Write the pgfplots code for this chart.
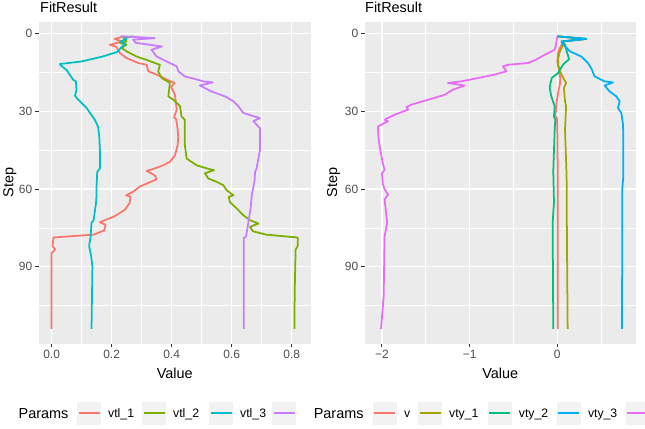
\documentclass[border=0pt]{standalone}
\usepackage{pgfplots}
\pgfplotsset{compat=1.18}
\usepackage{fontspec}
\setmainfont{Liberation Sans}
\definecolor{ggbg}{HTML}{EBEBEB}
\definecolor{ggkey}{HTML}{F2F2F2}
\definecolor{ggtext}{HTML}{4D4D4D}
\definecolor{ggtick}{HTML}{333333}
\definecolor{cA}{HTML}{F8766D}
\definecolor{cB}{HTML}{7CAE00}
\definecolor{cC}{HTML}{00BFC4}
\definecolor{cD}{HTML}{C77CFF}
\definecolor{dB}{HTML}{A3A500}
\definecolor{dC}{HTML}{00BF7D}
\definecolor{dD}{HTML}{00B0F6}
\definecolor{dE}{HTML}{E76BF3}
\pgfplotsset{
  ggbase/.style={
    scale only axis, anchor=south west,
    axis background/.style={fill=ggbg},
    axis line style={draw=none},
    y dir=reverse, ymin=-4.65, ymax=119.65,
    ytick={0,30,60,90}, yticklabels={0,30,60,90},
    minor ytick={15,45,75,105},
    grid=both,
    major grid style={white, line width=1.35bp},
    minor grid style={white, line width=0.7bp},
    tick align=outside, tick pos=left,
    major tick length=3.6bp, minor tick length=0pt,
    major tick style={color=ggtick, line width=0.9bp},
    ticklabel style={font=\fontsize{12}{12}\selectfont, color=ggtext, inner sep=0pt},
    xticklabel style={anchor=north, yshift=-2.5bp},
    yticklabel style={anchor=east, xshift=-3bp},
    clip=false,
    every axis plot/.append style={line width=1.75bp, no marks, line join=round},
  }
}
\begin{document}
\begin{tikzpicture}
\useasboundingbox (0,0) rectangle (645bp,-429bp);
% ---------- left panel ----------
\begin{axis}[ggbase, at={(39bp,-343.5bp)}, width=271.6bp, height=321.8bp,
  xmin=-0.042, xmax=0.863,
  xtick={0,0.2,0.4,0.6,0.8}, xticklabels={0.0,0.2,0.4,0.6,0.8},
  minor xtick={0.1,0.3,0.5,0.7}]
\addplot[cA] coordinates {(0.24,1) (0.21,2) (0.235,3) (0.194,4.3) (0.215,5) (0.228,7.5) (0.25,9.4) (0.289,11.3) (0.317,12) (0.322,14.5) (0.35,15.8) (0.372,17) (0.40,18.6) (0.41,19) (0.398,20.5) (0.411,23.6) (0.417,29.3) (0.408,32.3) (0.415,33) (0.42,37) (0.422,40) (0.42,43) (0.411,47) (0.394,49.5) (0.372,50.8) (0.344,52) (0.317,53) (0.344,54.7) (0.35,56.2) (0.317,57.9) (0.294,59) (0.272,61) (0.248,62.4) (0.263,63) (0.26,65.4) (0.244,68) (0.21,70.5) (0.161,72.8) (0.18,73.8) (0.175,76) (0.14,77.6) (0.006,78.7) (0.003,82) (0.012,83.3) (0.0,84.7) (0.0,100) (0.0,114)};
\addplot[cB] coordinates {(0.272,1) (0.239,1.7) (0.25,3) (0.228,3.6) (0.25,4.2) (0.233,5.5) (0.25,6.8) (0.283,8.8) (0.314,10) (0.344,11.3) (0.361,12) (0.355,14.6) (0.367,17.1) (0.394,19) (0.389,24.2) (0.406,25.5) (0.428,28) (0.433,32) (0.444,33.2) (0.444,43) (0.45,48.2) (0.483,50.8) (0.517,52) (0.541,52.7) (0.511,53.9) (0.522,55.9) (0.55,57.2) (0.572,58.5) (0.583,60.4) (0.606,62.4) (0.59,63) (0.594,65) (0.617,67.5) (0.639,70.1) (0.661,72) (0.689,73.3) (0.661,74.6) (0.671,76.3) (0.715,77.6) (0.82,78.7) (0.82,82) (0.813,83.4) (0.81,100) (0.809,114)};
\addplot[cC] coordinates {(0.24,1) (0.25,2) (0.23,3) (0.245,4) (0.23,5.5) (0.22,7) (0.17,8.8) (0.10,10.7) (0.028,11.7) (0.03,12.2) (0.05,14) (0.072,17.8) (0.081,18.4) (0.083,21.6) (0.078,24) (0.089,25.5) (0.106,27.4) (0.117,28.7) (0.128,30.6) (0.144,33.2) (0.155,36) (0.159,40) (0.161,45) (0.161,52) (0.152,53.4) (0.15,58.5) (0.15,62) (0.148,65.4) (0.14,72) (0.133,73) (0.13,78.3) (0.125,82) (0.132,86) (0.136,90) (0.133,114)};
\addplot[cD] coordinates {(0.23,1) (0.27,1.2) (0.344,1.7) (0.272,2.3) (0.28,3.5) (0.367,4.9) (0.333,6.2) (0.35,8.8) (0.394,11.3) (0.417,12.6) (0.422,14.5) (0.444,16.5) (0.472,17.3) (0.506,18.4) (0.537,18.8) (0.494,20) (0.533,22.3) (0.578,24.2) (0.606,26.1) (0.622,28) (0.639,30.6) (0.694,32.6) (0.672,33.8) (0.694,36.4) (0.694,45) (0.683,52) (0.678,53.4) (0.676,57) (0.667,62.4) (0.663,67.5) (0.656,72.7) (0.648,78.3) (0.64,79) (0.64,114)};
\end{axis}
% ---------- right panel ----------
\begin{axis}[ggbase, at={(365bp,-343.5bp)}, width=270.7bp, height=321.8bp,
  xmin=-2.193, xmax=0.894,
  xtick={-2,-1,0}, xticklabels={−2,−1,0},
  minor xtick={-1.5,-0.5,0.5}]
\addplot[cA] coordinates {(0,1) (0.33,2) (0.05,3) (0.05,4.2) (0.011,6.8) (0.0,10.7) (0.02,14.5) (0.034,17.1) (0.03,19.5) (0.011,22.3) (-0.007,26.1) (-0.015,30) (-0.03,31.5) (-0.005,32.5) (0.0,36) (0.004,50) (0.004,114)};
\addplot[dB] coordinates {(0,1) (0.33,2) (0.05,3) (0.068,4.2) (0.027,7) (0.011,9.4) (0.01,12) (0.03,14.5) (0.068,17.1) (0.10,19) (0.075,21) (0.088,26.1) (0.10,28) (0.088,37) (0.106,55) (0.11,80) (0.118,114)};
\addplot[dC] coordinates {(0,1) (0.33,2) (0.05,3) (0.088,4.2) (0.107,6.8) (0.135,9.8) (0.068,11.8) (0.008,15.2) (-0.064,17.1) (-0.08,19.5) (-0.087,21) (-0.068,24.2) (-0.03,28) (-0.038,32) (-0.023,33.2) (-0.03,37) (-0.046,53) (-0.038,65) (-0.053,73) (-0.046,114)};
\addplot[dD] coordinates {(0,1) (0.33,2) (0.05,3) (0.068,4.2) (0.145,6.8) (0.274,8.8) (0.35,11.3) (0.39,13.5) (0.426,16.5) (0.54,18.4) (0.635,18.8) (0.54,20) (0.597,22.3) (0.673,24.2) (0.711,26.1) (0.692,28.7) (0.73,30.6) (0.749,35) (0.753,40) (0.753,55) (0.741,60) (0.738,114)};
\addplot[dE] coordinates {(0,1) (-0.011,3.6) (-0.03,6.2) (-0.106,7.5) (-0.18,8.8) (-0.24,10) (-0.335,11.3) (-0.563,12) (-0.62,12.6) (-0.58,14.5) (-0.715,15.8) (-0.905,17.1) (-1.095,18.4) (-1.247,19) (-1.057,20) (-1.19,21.6) (-1.285,23.6) (-1.475,25.5) (-1.665,27.4) (-1.72,28.3) (-1.70,29.3) (-1.855,31.3) (-1.97,33.2) (-1.93,33.8) (-2.046,35.8) (-2.04,40) (-2.02,44.8) (-1.99,50) (-1.97,52.5) (-2.0,54) (-1.99,58) (-1.97,60) (-1.93,62.2) (-1.97,64) (-1.95,70) (-1.94,73) (-1.97,78.3) (-1.98,101.4) (-2.01,114)};
\end{axis}
% ---------- titles and labels ----------
\begin{scope}[every node/.style={inner sep=0pt, font=\fontsize{14.5}{14.5}\selectfont}]
\node[anchor=base west] at (40bp,-12.5bp) {FitResult};
\node[anchor=base west] at (365bp,-12.5bp) {FitResult};
\node[anchor=base] at (174.8bp,-378.5bp) {Value};
\node[anchor=base] at (500.3bp,-378.5bp) {Value};
\node[anchor=base, rotate=90] at (13.3bp,-182.6bp) {Step};
\node[anchor=base, rotate=90] at (337bp,-182.6bp) {Step};
\node[anchor=base west] at (18.5bp,-418bp) {Params};
\node[anchor=base west] at (313.6bp,-418bp) {Params};
\end{scope}
% ---------- legend keys ----------
\begin{scope}[every node/.style={inner sep=0pt, font=\fontsize{12.3}{12.3}\selectfont, anchor=base west}]
\foreach \xa/\col/\lab in {77/cA/vtl\_1, 142/cB/vtl\_2, 209/cC/vtl\_3, 272.4/cD/{}, 372.8/cA/v, 418/dB/vty\_1, 487.7/dC/vty\_2, 556.8/dD/vty\_3, 625.5/dE/{}}{
  \fill[ggkey] (\xa bp,-401.5bp) rectangle ++(24bp,-23bp);
  \draw[\col, line width=1.75bp] (\xa bp+1.5bp,-413bp) -- ++(21bp,0);
  \node at (\xa bp+31bp,-417.4bp) {\lab};
}
\end{scope}
\end{tikzpicture}
\end{document}
